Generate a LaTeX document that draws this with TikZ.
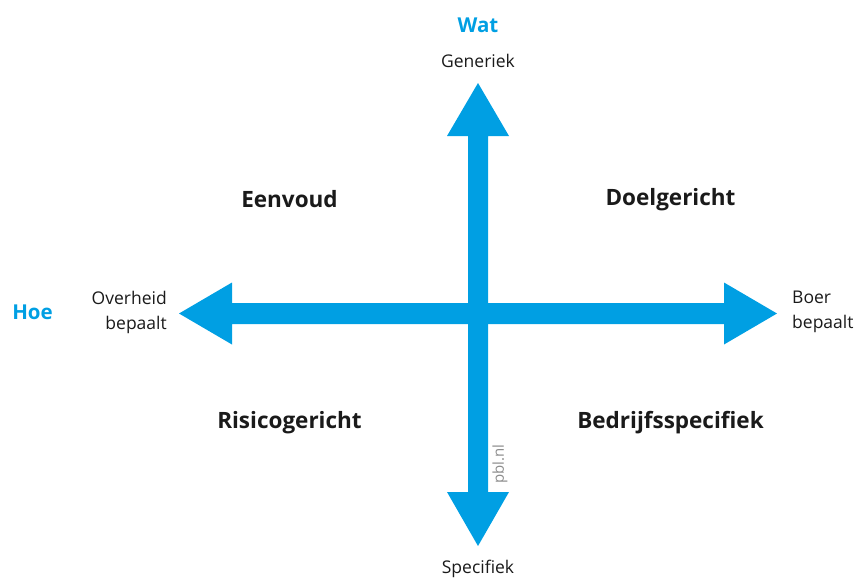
\documentclass[tikz,border=0pt]{standalone}
\usepackage{fontspec}
\setmainfont{Open Sans}
\definecolor{pblblue}{HTML}{009FE3}
\definecolor{txt}{HTML}{1A1A1A}
\definecolor{pblgrey}{HTML}{8C8C8C}
\begin{document}
\begin{tikzpicture}[x=1pt,y=-1pt,
  axislabel/.style={font=\fontsize{17.5}{25}\selectfont, text=txt, inner sep=0pt},
  dimlabel/.style={font=\fontsize{20.5}{24}\selectfont\bfseries, text=pblblue, inner sep=0pt},
  quadlabel/.style={font=\fontsize{22.5}{26}\selectfont\bfseries, text=txt, inner sep=0pt}]
\useasboundingbox (0,0) rectangle (857,579);
% vertical double arrow
\fill[pblblue] (478,83) -- (509,136) -- (488,136) -- (488,492) -- (509,492) -- (478,546)
  -- (447,492) -- (468,492) -- (468,136) -- (447,136) -- cycle;
% horizontal double arrow
\fill[pblblue] (179,313.5) -- (232,282.5) -- (232,303) -- (724,303) -- (724,282.5) -- (777,313.5)
  -- (724,344.5) -- (724,324) -- (232,324) -- (232,344.5) -- cycle;
\node[dimlabel] (wat) at (478,25) {Wat};
\node[axislabel] (gen) at (478,61) {Generiek};
\node[axislabel] (spec) at (478,569) {Specifiek};
\node[dimlabel] (hoe) at (32.5,312) {Hoe};
\node[axislabel, anchor=east, align=right] (overheid) at (167,312) {Overheid\\bepaalt};
\node[axislabel, anchor=west, align=left] (boer) at (792,312) {Boer\\bepaalt};
\node[quadlabel] (eenvoud) at (289.5,199.5) {Eenvoud};
\node[quadlabel] (doel) at (670.5,199.5) {Doelgericht};
\node[quadlabel] (risico) at (289.5,422.5) {Risicogericht};
\node[quadlabel] (bedrijf) at (670.5,422.5) {Bedrijfsspecifiek};
\node[font=\fontsize{15}{17}\selectfont, text=pblgrey, rotate=90, inner sep=0pt] (pbl) at (500,464) {pbl.nl};
\end{tikzpicture}
\end{document}
